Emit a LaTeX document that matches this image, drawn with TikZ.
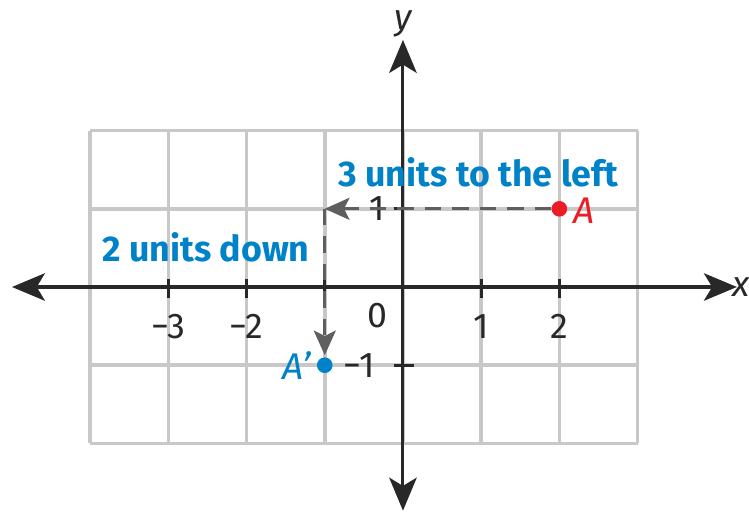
\documentclass[tikz,border=0pt]{standalone}
\usepackage{fontspec}
\setmainfont{Fira Sans}
\usetikzlibrary{arrows.meta}
\definecolor{gridgray}{RGB}{200,200,200}
\definecolor{axisgray}{RGB}{40,40,40}
\definecolor{dashgray}{RGB}{95,95,95}
\definecolor{labelblue}{RGB}{0,130,200}
\definecolor{ptred}{RGB}{235,30,40}
\tikzset{
  gridline/.style={draw=gridgray, line width=1.3pt},
  axisline/.style={draw=axisgray, line width=1.1pt, {Stealth[length=12pt,width=10pt,inset=3pt]}-{Stealth[length=12pt,width=10pt,inset=3pt]}},
  tickline/.style={draw=axisgray, line width=1.1pt},
  moveline/.style={draw=dashgray, line width=1.1pt, dash pattern=on 6pt off 4pt, -{Stealth[length=9pt,width=8pt,inset=2pt]}},
  ticklabel/.style={text=axisgray, font=\fontsize{13}{15}\selectfont, inner sep=0pt},
  movelabel/.style={text=labelblue, font=\fontsize{13}{15}\selectfont\bfseries, inner sep=0pt},
  ptlabel/.style={font=\fontsize{13.5}{16}\selectfont\itshape\mdseries, inner sep=0pt},
  axislabel/.style={text=axisgray, font=\fontsize{13}{15}\selectfont\itshape, inner sep=0pt}
}
\begin{document}
\begin{tikzpicture}[x=1cm,y=1cm]
\useasboundingbox (-5.153,-2.954) rectangle (4.425,3.670);
% grid
\foreach \i in {-4,...,3} \draw[gridline] (\i,-2) -- (\i,2);
\foreach \j in {-2,...,2} \draw[gridline] (-4,\j) -- (3,\j);
% axes
\coordinate (xl) at (-5.0,0);
\coordinate (xr) at (4.27,0);
\coordinate (yt) at (0,3.16);
\coordinate (yb) at (0,-2.86);
\draw[axisline] (xl) -- (xr);
\draw[axisline] (yb) -- (yt);
\node[axislabel] (xlab) at (4.32,0) {x};
\node[axislabel] (ylab) at (0,3.36) {y};
% ticks
\foreach \i in {-3,-2,-1,1,2} \draw[tickline] (\i,0.1) -- (\i,-0.14);
\foreach \j in {-1,1} \draw[tickline] (-0.12,\j) -- (0.14,\j);
% tick labels
\node[ticklabel] (tm3) at (-3,-0.5) {−3};
\node[ticklabel] (tm2) at (-2,-0.5) {−2};
\node[ticklabel] (t0) at (-0.32,-0.36) {0};
\node[ticklabel] (t1) at (1,-0.5) {1};
\node[ticklabel] (t2) at (2,-0.5) {2};
\node[ticklabel] (ty1) at (-0.33,1) {1};
\node[ticklabel] (tym1) at (-0.56,-1) {−1};
% points
\node[circle, fill=ptred, inner sep=0pt, minimum size=0.2cm] (A) at (2,1) {};
\node[circle, fill=labelblue, inner sep=0pt, minimum size=0.2cm] (Ap) at (-1,-1) {};
\coordinate (corner) at (-1,1);
\node[ptlabel, text=ptred, anchor=west] (Alab) at (2.18,0.98) {A};
\node[ptlabel, text=labelblue, anchor=east] (Aplab) at (-1.17,-1.0) {A’};
% movement
\draw[moveline] (A) -- (corner);
\draw[moveline, shorten >=0.02cm] (corner) -- (Ap);
\node[movelabel] (left) at (0.96,1.47) {3 units to the left};
\node[movelabel] (down) at (-2.52,0.51) {2 units down};
\end{tikzpicture}
\end{document}
